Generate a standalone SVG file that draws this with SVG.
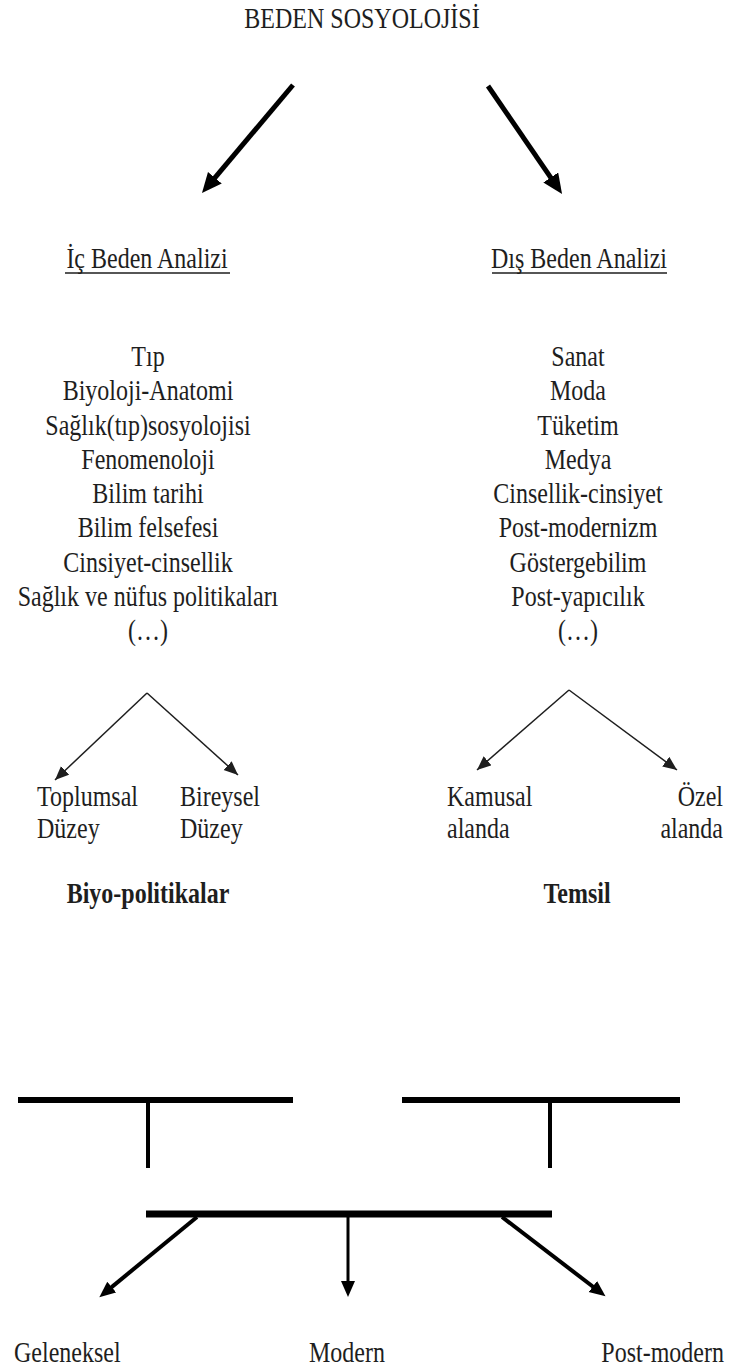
<svg xmlns="http://www.w3.org/2000/svg" width="737" height="1371" viewBox="0 0 737 1371">
<style>
text{font-family:"Liberation Serif","Times New Roman",serif;font-size:24px;fill:#1e1e1e}
.m{text-anchor:middle}
.b{font-weight:bold}
.ul{stroke:#1e1e1e;stroke-width:1.6}
.big{stroke:#000;stroke-width:5;fill:none}
.sm{stroke:#1e1e1e;stroke-width:1.5;fill:none}
.bar{stroke:#000;fill:none}
</style>
<defs>
<marker id="ah" markerUnits="userSpaceOnUse" markerWidth="22" markerHeight="20" refX="4" refY="9" orient="auto"><path d="M0,0 L20,9 L0,18 z" fill="#000"/></marker>
<marker id="as" markerUnits="userSpaceOnUse" markerWidth="16" markerHeight="14" refX="14" refY="6" orient="auto"><path d="M0,0 L14,6 L0,12 z" fill="#1e1e1e"/></marker>
<marker id="am" markerUnits="userSpaceOnUse" markerWidth="18" markerHeight="16" refX="4" refY="7" orient="auto"><path d="M0,0 L16,7 L0,14 z" fill="#000"/></marker>
</defs>
<rect width="737" height="1371" fill="#fff"/>

<g id="title"><text class="m" transform="translate(362,28) scale(1,1.22)">BEDEN SOSYOLOJİSİ</text></g>

<g id="ic-beden">
<text class="m" transform="translate(147,268) scale(1,1.22)">İç Beden Analizi</text>
<line class="ul" x1="65" y1="273" x2="230" y2="273"/>
</g>
<g id="dis-beden">
<text class="m" transform="translate(579,268) scale(1,1.22)">Dış Beden Analizi</text>
<line class="ul" x1="492" y1="273" x2="667" y2="273"/>
</g>

<g id="ic-list" transform="translate(148,366) scale(1,1.22)">
<text class="m" x="0" y="0">Tıp</text>
<text class="m" x="0" y="28.1">Biyoloji-Anatomi</text>
<text class="m" x="0" y="56.2">Sağlık(tıp)sosyolojisi</text>
<text class="m" x="0" y="84.3">Fenomenoloji</text>
<text class="m" x="0" y="112.4">Bilim tarihi</text>
<text class="m" x="0" y="140.5">Bilim felsefesi</text>
<text class="m" x="0" y="168.6">Cinsiyet-cinsellik</text>
<text class="m" x="0" y="196.7">Sağlık ve nüfus politikaları</text>
<text class="m" x="0" y="224.8">(…)</text>
</g>

<g id="dis-list" transform="translate(578,366) scale(1,1.22)">
<text class="m" x="0" y="0">Sanat</text>
<text class="m" x="0" y="28.1">Moda</text>
<text class="m" x="0" y="56.2">Tüketim</text>
<text class="m" x="0" y="84.3">Medya</text>
<text class="m" x="0" y="112.4">Cinsellik-cinsiyet</text>
<text class="m" x="0" y="140.5">Post-modernizm</text>
<text class="m" x="0" y="168.6">Göstergebilim</text>
<text class="m" x="0" y="196.7">Post-yapıcılık</text>
<text class="m" x="0" y="224.8">(…)</text>
</g>

<g id="toplumsal" transform="translate(37,806) scale(1,1.22)">
<text x="0" y="0">Toplumsal</text>
<text x="0" y="26.5">Düzey</text>
</g>
<g id="bireysel" transform="translate(180,806) scale(1,1.22)">
<text x="0" y="0">Bireysel</text>
<text x="0" y="26.5">Düzey</text>
</g>
<g id="kamusal" transform="translate(447,806) scale(1,1.22)">
<text x="0" y="0">Kamusal</text>
<text x="0" y="26.5">alanda</text>
</g>
<g id="ozel" transform="translate(723,806) scale(1,1.22)">
<text x="0" y="0" text-anchor="end">Özel</text>
<text x="0" y="26.5" text-anchor="end">alanda</text>
</g>

<g id="biyo"><text class="m b" transform="translate(148,903) scale(1,1.22)">Biyo-politikalar</text></g>
<g id="temsil"><text class="m b" transform="translate(577,903) scale(1,1.22)">Temsil</text></g>

<g id="geleneksel"><text transform="translate(14,1362) scale(1,1.22)">Geleneksel</text></g>
<g id="modern"><text class="m" transform="translate(347,1362) scale(1,1.22)">Modern</text></g>
<g id="postmodern"><text text-anchor="end" transform="translate(724,1362) scale(1,1.22)">Post-modern</text></g>

<g id="connectors">
<line class="big" x1="293" y1="85" x2="212.3" y2="180.8" marker-end="url(#ah)"/>
<line class="big" x1="488" y1="86" x2="553" y2="180.8" marker-end="url(#ah)"/>

<line class="sm" x1="147" y1="693" x2="55" y2="780" marker-end="url(#as)"/>
<line class="sm" x1="147" y1="693" x2="238" y2="775" marker-end="url(#as)"/>
<line class="sm" x1="569" y1="690" x2="477" y2="770" marker-end="url(#as)"/>
<line class="sm" x1="569" y1="690" x2="677" y2="770" marker-end="url(#as)"/>

<line class="bar" x1="18" y1="1100" x2="293" y2="1100" stroke-width="6"/>
<line class="bar" x1="148" y1="1100" x2="148" y2="1168" stroke-width="4"/>
<line class="bar" x1="402" y1="1100" x2="680" y2="1100" stroke-width="6"/>
<line class="bar" x1="550" y1="1100" x2="550" y2="1168" stroke-width="4"/>

<line class="bar" x1="146" y1="1214" x2="552" y2="1214" stroke-width="7"/>
<line class="bar" x1="197" y1="1217" x2="108.6" y2="1289.6" stroke-width="4" marker-end="url(#am)"/>
<line class="bar" x1="348" y1="1217" x2="348" y2="1285" stroke-width="3" marker-end="url(#am)"/>
<line class="bar" x1="502" y1="1217" x2="596" y2="1289" stroke-width="4" marker-end="url(#am)"/>
</g>
</svg>
